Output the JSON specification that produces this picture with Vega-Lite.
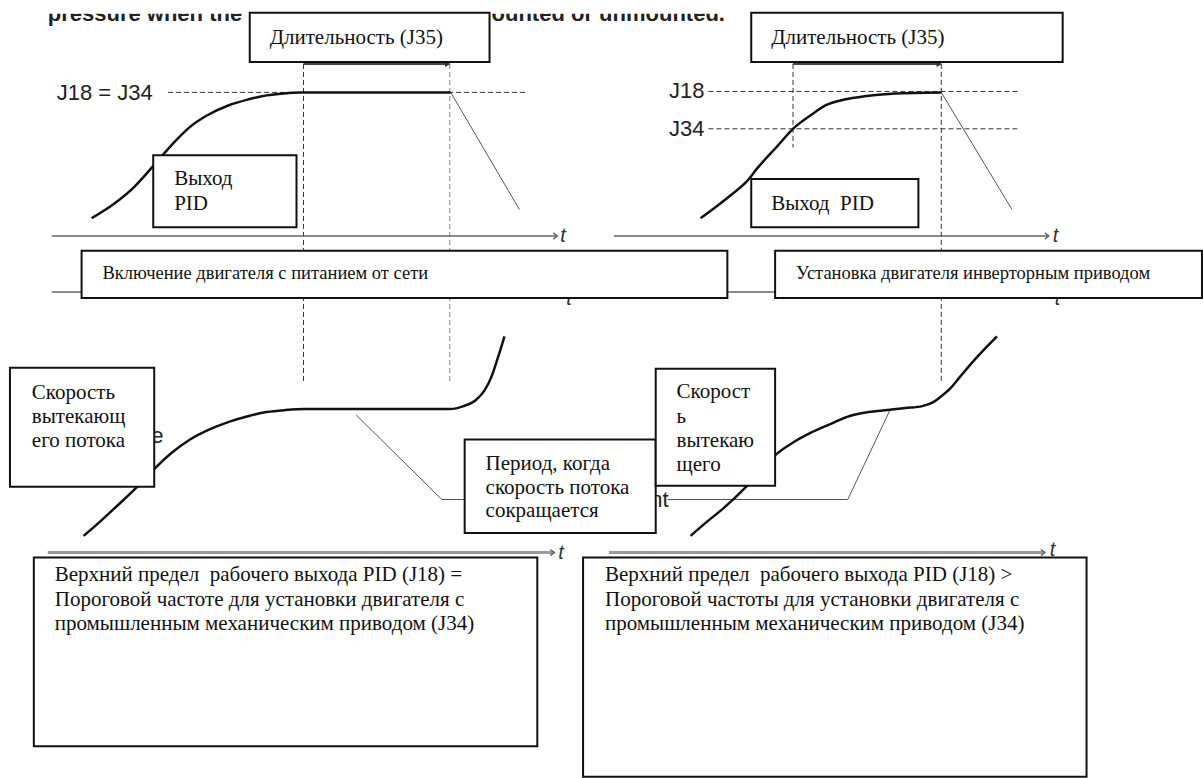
{
  "$schema": "https://vega.github.io/schema/vega-lite/v6.json",
  "width": 1203,
  "height": 778,
  "autosize": {"type": "fit", "contains": "padding"},
  "padding": 0,
  "background": "white",
  "config": {"view": {"stroke": null}},
  "datasets": {
    "title": [
      {"x": 48, "y": 21, "text": "pressure when the"},
      {"x": 494, "y": 21, "text": "ounted or unmounted."}
    ],
    "mask": [{"x": 0, "x2": 1203, "y": 0, "y2": 14}],
    "paths": [
      {"kind": "curve", "id": "c1", "o": 1, "x": 92, "y": 222},
      {"kind": "curve", "id": "c1", "o": 2, "x": 115, "y": 207},
      {"kind": "curve", "id": "c1", "o": 3, "x": 135, "y": 190},
      {"kind": "curve", "id": "c1", "o": 4, "x": 153, "y": 170},
      {"kind": "curve", "id": "c1", "o": 5, "x": 172, "y": 148},
      {"kind": "curve", "id": "c1", "o": 6, "x": 191, "y": 129},
      {"kind": "curve", "id": "c1", "o": 7, "x": 207, "y": 118},
      {"kind": "curve", "id": "c1", "o": 8, "x": 230, "y": 107},
      {"kind": "curve", "id": "c1", "o": 9, "x": 250, "y": 101},
      {"kind": "curve", "id": "c1", "o": 10, "x": 268, "y": 97},
      {"kind": "curve", "id": "c1", "o": 11, "x": 285, "y": 95},
      {"kind": "curve", "id": "c1", "o": 12, "x": 302, "y": 94},
      {"kind": "curve", "id": "c1", "o": 13, "x": 453, "y": 94},
      {"kind": "curve", "id": "c2", "o": 1, "x": 704, "y": 222},
      {"kind": "curve", "id": "c2", "o": 2, "x": 720, "y": 210},
      {"kind": "curve", "id": "c2", "o": 3, "x": 735, "y": 198},
      {"kind": "curve", "id": "c2", "o": 4, "x": 750, "y": 185},
      {"kind": "curve", "id": "c2", "o": 5, "x": 762, "y": 170},
      {"kind": "curve", "id": "c2", "o": 6, "x": 780, "y": 150},
      {"kind": "curve", "id": "c2", "o": 7, "x": 798, "y": 130},
      {"kind": "curve", "id": "c2", "o": 8, "x": 815, "y": 117},
      {"kind": "curve", "id": "c2", "o": 9, "x": 830, "y": 107},
      {"kind": "curve", "id": "c2", "o": 10, "x": 850, "y": 101},
      {"kind": "curve", "id": "c2", "o": 11, "x": 869, "y": 98},
      {"kind": "curve", "id": "c2", "o": 12, "x": 900, "y": 95},
      {"kind": "curve", "id": "c2", "o": 13, "x": 946, "y": 94},
      {"kind": "curve", "id": "c3", "o": 1, "x": 84, "y": 545},
      {"kind": "curve", "id": "c3", "o": 2, "x": 100, "y": 531},
      {"kind": "curve", "id": "c3", "o": 3, "x": 115, "y": 517},
      {"kind": "curve", "id": "c3", "o": 4, "x": 135, "y": 498},
      {"kind": "curve", "id": "c3", "o": 5, "x": 153, "y": 479},
      {"kind": "curve", "id": "c3", "o": 6, "x": 172, "y": 461},
      {"kind": "curve", "id": "c3", "o": 7, "x": 191, "y": 447},
      {"kind": "curve", "id": "c3", "o": 8, "x": 210, "y": 437},
      {"kind": "curve", "id": "c3", "o": 9, "x": 230, "y": 429},
      {"kind": "curve", "id": "c3", "o": 10, "x": 250, "y": 423},
      {"kind": "curve", "id": "c3", "o": 11, "x": 268, "y": 419},
      {"kind": "curve", "id": "c3", "o": 12, "x": 287, "y": 417},
      {"kind": "curve", "id": "c3", "o": 13, "x": 306, "y": 416},
      {"kind": "curve", "id": "c3", "o": 14, "x": 452, "y": 416},
      {"kind": "curve", "id": "c3", "o": 15, "x": 466, "y": 413},
      {"kind": "curve", "id": "c3", "o": 16, "x": 478, "y": 407},
      {"kind": "curve", "id": "c3", "o": 17, "x": 487, "y": 397},
      {"kind": "curve", "id": "c3", "o": 18, "x": 494, "y": 383},
      {"kind": "curve", "id": "c3", "o": 19, "x": 500, "y": 365},
      {"kind": "curve", "id": "c3", "o": 20, "x": 507, "y": 342},
      {"kind": "curve", "id": "c4", "o": 1, "x": 694, "y": 545},
      {"kind": "curve", "id": "c4", "o": 2, "x": 710, "y": 531},
      {"kind": "curve", "id": "c4", "o": 3, "x": 727, "y": 517},
      {"kind": "curve", "id": "c4", "o": 4, "x": 748, "y": 497},
      {"kind": "curve", "id": "c4", "o": 5, "x": 765, "y": 478},
      {"kind": "curve", "id": "c4", "o": 6, "x": 779, "y": 463},
      {"kind": "curve", "id": "c4", "o": 7, "x": 797, "y": 450},
      {"kind": "curve", "id": "c4", "o": 8, "x": 815, "y": 440},
      {"kind": "curve", "id": "c4", "o": 9, "x": 835, "y": 431},
      {"kind": "curve", "id": "c4", "o": 10, "x": 854, "y": 423},
      {"kind": "curve", "id": "c4", "o": 11, "x": 873, "y": 419},
      {"kind": "curve", "id": "c4", "o": 12, "x": 892, "y": 417},
      {"kind": "curve", "id": "c4", "o": 13, "x": 910, "y": 415},
      {"kind": "curve", "id": "c4", "o": 14, "x": 927, "y": 413},
      {"kind": "curve", "id": "c4", "o": 15, "x": 938, "y": 409},
      {"kind": "curve", "id": "c4", "o": 16, "x": 946, "y": 403},
      {"kind": "curve", "id": "c4", "o": 17, "x": 955, "y": 395},
      {"kind": "curve", "id": "c4", "o": 18, "x": 965, "y": 383},
      {"kind": "curve", "id": "c4", "o": 19, "x": 983, "y": 362},
      {"kind": "curve", "id": "c4", "o": 20, "x": 1002, "y": 342},
      {"kind": "thin", "id": "t1", "o": 1, "x": 453, "y": 94},
      {"kind": "thin", "id": "t1", "o": 2, "x": 522, "y": 213},
      {"kind": "thin", "id": "t2", "o": 1, "x": 946, "y": 94},
      {"kind": "thin", "id": "t2", "o": 2, "x": 1017, "y": 213},
      {"kind": "thin", "id": "t3", "o": 1, "x": 358, "y": 422},
      {"kind": "thin", "id": "t3", "o": 2, "x": 444, "y": 508},
      {"kind": "thin", "id": "t3", "o": 3, "x": 467, "y": 508},
      {"kind": "thin", "id": "t4", "o": 1, "x": 894, "y": 418},
      {"kind": "thin", "id": "t4", "o": 2, "x": 852, "y": 508},
      {"kind": "thin", "id": "t4", "o": 3, "x": 671, "y": 508},
      {"kind": "step", "id": "s1", "o": 1, "x": 52, "y": 297},
      {"kind": "step", "id": "s1", "o": 2, "x": 82, "y": 297},
      {"kind": "step", "id": "s2", "o": 1, "x": 731, "y": 297},
      {"kind": "step", "id": "s2", "o": 2, "x": 779, "y": 297},
      {"kind": "axisTop", "id": "a1", "o": 1, "x": 52, "y": 240},
      {"kind": "axisTop", "id": "a1", "o": 2, "x": 560, "y": 240},
      {"kind": "axisTop", "id": "a2", "o": 1, "x": 617, "y": 240},
      {"kind": "axisTop", "id": "a2", "o": 2, "x": 1054, "y": 240},
      {"kind": "axisBottom", "id": "a3", "o": 1, "x": 48, "y": 562},
      {"kind": "axisBottom", "id": "a3", "o": 2, "x": 557, "y": 562},
      {"kind": "axisBottom", "id": "a4", "o": 1, "x": 612, "y": 562},
      {"kind": "axisBottom", "id": "a4", "o": 2, "x": 1050, "y": 562},
      {"kind": "span", "id": "p1", "o": 1, "x": 305, "y": 65},
      {"kind": "span", "id": "p1", "o": 2, "x": 450, "y": 65},
      {"kind": "span", "id": "p2", "o": 1, "x": 797, "y": 65},
      {"kind": "span", "id": "p2", "o": 2, "x": 944, "y": 65},
      {"kind": "dashed", "id": "d1", "o": 1, "x": 169, "y": 94},
      {"kind": "dashed", "id": "d1", "o": 2, "x": 530, "y": 94},
      {"kind": "dashed", "id": "d2", "o": 1, "x": 712, "y": 93},
      {"kind": "dashed", "id": "d2", "o": 2, "x": 1025, "y": 93},
      {"kind": "dashed", "id": "d3", "o": 1, "x": 712, "y": 131},
      {"kind": "dashed", "id": "d3", "o": 2, "x": 1025, "y": 131},
      {"kind": "dashed", "id": "d4", "o": 1, "x": 305, "y": 65},
      {"kind": "dashed", "id": "d4", "o": 2, "x": 305, "y": 388},
      {"kind": "dashed", "id": "d5", "o": 1, "x": 797, "y": 65},
      {"kind": "dashed", "id": "d5", "o": 2, "x": 797, "y": 150},
      {"kind": "dashed", "id": "d6", "o": 1, "x": 946, "y": 65},
      {"kind": "dashed", "id": "d6", "o": 2, "x": 946, "y": 388},
      {"kind": "dashedLight", "id": "d7", "o": 1, "x": 452, "y": 65},
      {"kind": "dashedLight", "id": "d7", "o": 2, "x": 452, "y": 388}
    ],
    "heads": [
      {"kind": "filled", "x": 450, "y": 65},
      {"kind": "filled", "x": 944, "y": 65},
      {"kind": "open", "x": 560, "y": 240},
      {"kind": "open", "x": 1054, "y": 240},
      {"kind": "open", "x": 557, "y": 562},
      {"kind": "open", "x": 1050, "y": 562}
    ],
    "tmarks": [
      {"x": 563, "y": 240, "text": "t"},
      {"x": 1058, "y": 240, "text": "t"},
      {"x": 561, "y": 562, "text": "t"},
      {"x": 1055, "y": 559, "text": "t"},
      {"x": 569, "y": 304, "text": "t"},
      {"x": 1060, "y": 304, "text": "t"}
    ],
    "sansLabels": [
      {"x": 57, "y": 95, "text": "J18 = J34", "align": "left"},
      {"x": 708, "y": 93, "text": "J18", "align": "right"},
      {"x": 708, "y": 131, "text": "J34", "align": "right"},
      {"x": 152, "y": 443, "text": "e", "align": "left"},
      {"x": 672, "y": 508, "text": "nt", "align": "right"}
    ],
    "boxes": [
      {"id": 1, "x": 251, "x2": 492, "y": 13, "y2": 63},
      {"id": 2, "x": 755, "x2": 1068, "y": 13, "y2": 63},
      {"id": 3, "x": 154, "x2": 298, "y": 158, "y2": 231},
      {"id": 4, "x": 755, "x2": 923, "y": 182, "y2": 231},
      {"id": 5, "x": 82, "x2": 731, "y": 255, "y2": 303},
      {"id": 6, "x": 779, "x2": 1208, "y": 255, "y2": 303},
      {"id": 7, "x": 10, "x2": 155, "y": 374, "y2": 495},
      {"id": 8, "x": 467, "x2": 659, "y": 447, "y2": 542},
      {"id": 9, "x": 659, "x2": 779, "y": 375, "y2": 494},
      {"id": 10, "x": 34, "x2": 540, "y": 567, "y2": 759},
      {"id": 11, "x": 586, "x2": 1092, "y": 567, "y2": 790}
    ],
    "boxText": [
      {"x": 271, "y": 39, "text": "Длительность (J35)"},
      {"x": 775, "y": 39, "text": "Длительность (J35)"},
      {"x": 175, "y": 182, "text": "Выход"},
      {"x": 175, "y": 207, "text": "PID"},
      {"x": 775, "y": 207, "text": "Выход\u00a0 PID"},
      {"x": 32, "y": 400, "text": "Скорость"},
      {"x": 32, "y": 424, "text": "вытекающ"},
      {"x": 32, "y": 448, "text": "его потока"},
      {"x": 488, "y": 472, "text": "Период, когда"},
      {"x": 488, "y": 496, "text": "скорость потока"},
      {"x": 488, "y": 520, "text": "сокращается"},
      {"x": 680, "y": 399, "text": "Скорост"},
      {"x": 680, "y": 424, "text": "ь"},
      {"x": 680, "y": 448, "text": "вытекаю"},
      {"x": 680, "y": 473, "text": "щего"},
      {"x": 55, "y": 585, "text": "Верхний предел\u00a0 рабочего выхода PID (J18) ="},
      {"x": 55, "y": 610, "text": "Пороговой частоте для установки двигателя с"},
      {"x": 55, "y": 635, "text": "промышленным механическим приводом (J34)"},
      {"x": 608, "y": 585, "text": "Верхний предел\u00a0 рабочего выхода PID (J18) >"},
      {"x": 608, "y": 610, "text": "Пороговой частоты для установки двигателя с"},
      {"x": 608, "y": 635, "text": "промышленным механическим приводом (J34)"}
    ],
    "boxTextSmall": [
      {"x": 103, "y": 278, "text": "Включение двигателя с питанием от сети"},
      {"x": 800, "y": 278, "text": "Установка двигателя инверторным приводом"}
    ]
  },
  "layer": [
    {
      "data": {"name": "title"},
      "mark": {"type": "text", "align": "left", "baseline": "alphabetic", "font": "Liberation Sans", "fontWeight": "bold", "fontSize": 22, "color": "#222"},
      "encoding": {
        "x": {"field": "x", "type": "quantitative", "scale": {"domain": [0, 1203], "nice": false, "zero": false}, "axis": null},
        "y": {"field": "y", "type": "quantitative", "scale": {"domain": [0, 778], "nice": false, "zero": false, "reverse": true}, "axis": null},
        "text": {"field": "text"}
      }
    },
    {
      "data": {"name": "mask"},
      "mark": {"type": "rect", "fill": "white", "strokeWidth": 0},
      "encoding": {
        "x": {"field": "x", "type": "quantitative"},
        "x2": {"field": "x2"},
        "y": {"field": "y", "type": "quantitative"},
        "y2": {"field": "y2"}
      }
    },
    {
      "data": {"name": "paths"},
      "transform": [{"filter": "datum.kind == 'dashed'"}],
      "mark": {"type": "line", "color": "#333", "strokeWidth": 1, "strokeDash": [5, 3]},
      "encoding": {
        "x": {"field": "x", "type": "quantitative"},
        "y": {"field": "y", "type": "quantitative"},
        "detail": {"field": "id", "type": "nominal"},
        "order": {"field": "o", "type": "quantitative"}
      }
    },
    {
      "data": {"name": "paths"},
      "transform": [{"filter": "datum.kind == 'dashedLight'"}],
      "mark": {"type": "line", "color": "#999", "strokeWidth": 1.2, "strokeDash": [5, 3]},
      "encoding": {
        "x": {"field": "x", "type": "quantitative"},
        "y": {"field": "y", "type": "quantitative"},
        "detail": {"field": "id", "type": "nominal"},
        "order": {"field": "o", "type": "quantitative"}
      }
    },
    {
      "data": {"name": "paths"},
      "transform": [{"filter": "datum.kind == 'thin'"}],
      "mark": {"type": "line", "color": "#555", "strokeWidth": 1},
      "encoding": {
        "x": {"field": "x", "type": "quantitative"},
        "y": {"field": "y", "type": "quantitative"},
        "detail": {"field": "id", "type": "nominal"},
        "order": {"field": "o", "type": "quantitative"}
      }
    },
    {
      "data": {"name": "paths"},
      "transform": [{"filter": "datum.kind == 'step' || datum.kind == 'axisTop'"}],
      "mark": {"type": "line", "color": "#666", "strokeWidth": 1.5},
      "encoding": {
        "x": {"field": "x", "type": "quantitative"},
        "y": {"field": "y", "type": "quantitative"},
        "detail": {"field": "id", "type": "nominal"},
        "order": {"field": "o", "type": "quantitative"}
      }
    },
    {
      "data": {"name": "paths"},
      "transform": [{"filter": "datum.kind == 'axisBottom'"}],
      "mark": {"type": "line", "color": "#9a9a9a", "strokeWidth": 3},
      "encoding": {
        "x": {"field": "x", "type": "quantitative"},
        "y": {"field": "y", "type": "quantitative"},
        "detail": {"field": "id", "type": "nominal"},
        "order": {"field": "o", "type": "quantitative"}
      }
    },
    {
      "data": {"name": "paths"},
      "transform": [{"filter": "datum.kind == 'span'"}],
      "mark": {"type": "line", "color": "#444", "strokeWidth": 2},
      "encoding": {
        "x": {"field": "x", "type": "quantitative"},
        "y": {"field": "y", "type": "quantitative"},
        "detail": {"field": "id", "type": "nominal"},
        "order": {"field": "o", "type": "quantitative"}
      }
    },
    {
      "data": {"name": "paths"},
      "transform": [{"filter": "datum.kind == 'curve'"}],
      "mark": {"type": "line", "color": "#111", "strokeWidth": 2.5, "interpolate": "monotone"},
      "encoding": {
        "x": {"field": "x", "type": "quantitative"},
        "y": {"field": "y", "type": "quantitative"},
        "detail": {"field": "id", "type": "nominal"},
        "order": {"field": "o", "type": "quantitative"}
      }
    },
    {
      "data": {"name": "heads"},
      "transform": [{"filter": "datum.kind == 'filled'"}],
      "mark": {"type": "point", "shape": "triangle-right", "filled": true, "size": 40, "color": "#333", "opacity": 1},
      "encoding": {
        "x": {"field": "x", "type": "quantitative"},
        "y": {"field": "y", "type": "quantitative"}
      }
    },
    {
      "data": {"name": "heads"},
      "transform": [{"filter": "datum.kind == 'open'"}],
      "mark": {"type": "point", "shape": "M-1,-0.8L0,0L-1,0.8", "filled": false, "size": 60, "color": "#666", "strokeWidth": 1.5, "opacity": 1},
      "encoding": {
        "x": {"field": "x", "type": "quantitative"},
        "y": {"field": "y", "type": "quantitative"}
      }
    },
    {
      "data": {"name": "tmarks"},
      "mark": {"type": "text", "align": "left", "baseline": "middle", "font": "Liberation Sans", "fontStyle": "italic", "fontSize": 20, "color": "#333"},
      "encoding": {
        "x": {"field": "x", "type": "quantitative"},
        "y": {"field": "y", "type": "quantitative"},
        "text": {"field": "text"}
      }
    },
    {
      "data": {"name": "sansLabels"},
      "transform": [{"filter": "datum.align == 'left'"}],
      "mark": {"type": "text", "align": "left", "baseline": "middle", "font": "Liberation Sans", "fontSize": 22, "color": "#222"},
      "encoding": {
        "x": {"field": "x", "type": "quantitative"},
        "y": {"field": "y", "type": "quantitative"},
        "text": {"field": "text"}
      }
    },
    {
      "data": {"name": "sansLabels"},
      "transform": [{"filter": "datum.align == 'right'"}],
      "mark": {"type": "text", "align": "right", "baseline": "middle", "font": "Liberation Sans", "fontSize": 22, "color": "#222"},
      "encoding": {
        "x": {"field": "x", "type": "quantitative"},
        "y": {"field": "y", "type": "quantitative"},
        "text": {"field": "text"}
      }
    },
    {
      "data": {"name": "boxes"},
      "mark": {"type": "rect", "fill": "white", "stroke": "#111", "strokeWidth": 2},
      "encoding": {
        "x": {"field": "x", "type": "quantitative"},
        "x2": {"field": "x2"},
        "y": {"field": "y", "type": "quantitative"},
        "y2": {"field": "y2"},
        "order": {"field": "id", "type": "quantitative"}
      }
    },
    {
      "data": {"name": "boxText"},
      "mark": {"type": "text", "align": "left", "baseline": "middle", "font": "Liberation Serif", "fontSize": 21, "color": "#111"},
      "encoding": {
        "x": {"field": "x", "type": "quantitative"},
        "y": {"field": "y", "type": "quantitative"},
        "text": {"field": "text"}
      }
    },
    {
      "data": {"name": "boxTextSmall"},
      "mark": {"type": "text", "align": "left", "baseline": "middle", "font": "Liberation Serif", "fontSize": 18.5, "color": "#111"},
      "encoding": {
        "x": {"field": "x", "type": "quantitative"},
        "y": {"field": "y", "type": "quantitative"},
        "text": {"field": "text"}
      }
    }
  ]
}
